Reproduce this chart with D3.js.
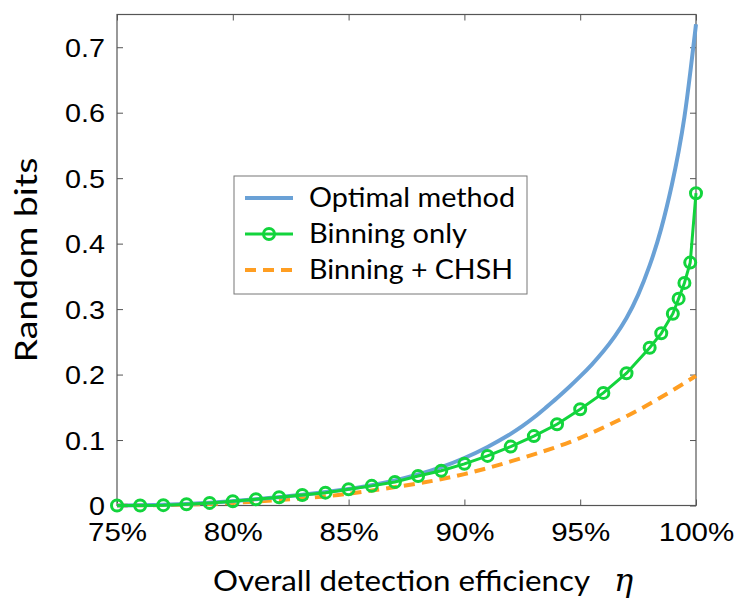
<!DOCTYPE html>
<html>
<head>
<meta charset="utf-8">
<script src="https://cdn.jsdelivr.net/npm/d3@7"></script>
<style>
  body { margin: 0; background: #fff; }
  .tick text { font-family: "Liberation Sans", Arial, sans-serif; }
</style>
</head>
<body>
<script>
// efficiency in %, random bits
var optimalX = [75, 77, 79, 81, 83, 85, 86, 87, 88, 89, 90, 91, 92, 92.5, 93, 93.5, 94, 94.5, 95, 95.5, 96, 96.5, 97, 97.5, 98, 98.5, 99, 99.25, 99.5, 99.75, 100];
var optimalY = [0, 0.0005, 0.004, 0.0095, 0.016, 0.025, 0.031, 0.038, 0.047, 0.058, 0.072, 0.089, 0.109, 0.121, 0.134, 0.149, 0.164, 0.18, 0.197, 0.215, 0.235, 0.258, 0.285, 0.32, 0.365, 0.42, 0.495, 0.54, 0.59, 0.66, 0.735];

var binX = [75, 76, 77, 78, 79, 80, 81, 82, 83, 84, 85, 86, 87, 88, 89, 90, 91, 92, 93, 94, 95, 96, 97, 98, 98.5, 99, 99.25, 99.5, 99.75, 100];
var binY = [0, 0, 0.0005, 0.002, 0.004, 0.0064, 0.0095, 0.0126, 0.016, 0.0196, 0.0248, 0.03, 0.036, 0.045, 0.053, 0.0636, 0.0758, 0.09, 0.106, 0.124, 0.147, 0.172, 0.202, 0.241, 0.263, 0.293, 0.316, 0.34, 0.371, 0.477];

var chshX = [75, 77, 79, 80, 82, 84, 85, 86, 88, 90, 92, 94, 95, 96, 97, 98, 99, 100];
var chshY = [0, 0.0005, 0.002, 0.004, 0.008, 0.0135, 0.018, 0.023, 0.033, 0.047, 0.067, 0.089, 0.103, 0.119, 0.136, 0.155, 0.176, 0.198];

var xTicks = [75, 80, 85, 90, 95, 100];
var yTicks = [0, 0.1, 0.2, 0.3, 0.4, 0.5, 0.6, 0.7];
var legendNames = ["Optimal method", "Binning only", "Binning + CHSH"];
var legendWidths = [206, 158, 204];

var W = 746, H = 599;
var margin = {top: 14.5, right: 50, bottom: 93.5, left: 117};
var width = W - margin.left - margin.right,
    height = H - margin.top - margin.bottom;

var blue = "#6aa1d6", green = "#12d43c", orange = "#ff9e22", frame = "#555";
var titleFont = "Lato, 'Noto Sans', sans-serif";

var svg = d3.select("body").append("svg")
    .attr("width", W)
    .attr("height", H);

var g = svg.append("g")
    .attr("transform", "translate(" + margin.left + "," + margin.top + ")");

var x = d3.scaleLinear().domain([75, 100]).range([0, width]);
var y = d3.scaleLinear().domain([0, 0.75]).range([height, 0]);

function zip(a, b) { return a.map(function(v, i) { return [v, b[i]]; }); }

// stretch glyphs a bit, the original fonts are wider
function widen(sel, k) {
    sel.each(function() {
        var len = this.getComputedTextLength();
        d3.select(this).attr("textLength", len * k).attr("lengthAdjust", "spacingAndGlyphs");
    });
}

// axes, ticks pointing inward
var tickLen = 6;
var xAxis = g.append("g")
    .attr("transform", "translate(0," + height + ")")
    .call(d3.axisBottom(x).tickValues(xTicks).tickSizeInner(-tickLen).tickSizeOuter(0).tickPadding(12)
        .tickFormat(function(d) { return d + "%"; }));
var yAxis = g.append("g")
    .call(d3.axisLeft(y).tickValues(yTicks).tickSizeInner(-tickLen).tickSizeOuter(0).tickPadding(12)
        .tickFormat(function(d) { return d === 0 ? "0" : d3.format(".1f")(d); }));
var topAxis = g.append("g")
    .call(d3.axisTop(x).tickValues(xTicks).tickSizeInner(-tickLen).tickSizeOuter(0).tickFormat(""));
var rightAxis = g.append("g")
    .attr("transform", "translate(" + width + ",0)")
    .call(d3.axisRight(y).tickValues(yTicks).tickSizeInner(-tickLen).tickSizeOuter(0).tickFormat(""));

[xAxis, yAxis, topAxis, rightAxis].forEach(function(a) {
    a.select(".domain").remove();
    a.selectAll(".tick line").attr("stroke", frame).attr("stroke-width", 1);
    a.selectAll(".tick text").attr("fill", "#000").style("font-size", "25px");
});
yAxis.selectAll(".tick text").attr("dy", "0.36em");
xAxis.selectAll(".tick text").attr("dy", "0.92em");
widen(yAxis.selectAll(".tick text"), 1.15);
widen(xAxis.selectAll(".tick text"), 1.18);

g.append("rect")
    .attr("width", width)
    .attr("height", height)
    .attr("fill", "none")
    .attr("stroke", frame)
    .attr("stroke-width", 1.2);

// curves
var smooth = d3.line()
    .x(function(d) { return x(d[0]); })
    .y(function(d) { return y(d[1]); })
    .curve(d3.curveBasis);
var straight = d3.line()
    .x(function(d) { return x(d[0]); })
    .y(function(d) { return y(d[1]); });

g.append("path")
    .datum(zip(chshX, chshY))
    .attr("d", smooth)
    .attr("fill", "none")
    .attr("stroke", orange)
    .attr("stroke-width", 4)
    .attr("stroke-dasharray", "11,7");

g.append("path")
    .datum(zip(optimalX, optimalY))
    .attr("d", smooth)
    .attr("fill", "none")
    .attr("stroke", blue)
    .attr("stroke-width", 4);

g.append("path")
    .datum(zip(binX, binY))
    .attr("d", straight)
    .attr("fill", "none")
    .attr("stroke", green)
    .attr("stroke-width", 3);

g.selectAll(".marker")
    .data(zip(binX, binY))
    .enter()
    .append("circle")
    .attr("class", "marker")
    .attr("cx", function(d) { return x(d[0]); })
    .attr("cy", function(d) { return y(d[1]); })
    .attr("r", 5.5)
    .attr("fill", "none")
    .attr("stroke", green)
    .attr("stroke-width", 3);

// axis titles
svg.append("text")
    .attr("x", 213)
    .attr("y", 591)
    .attr("textLength", 377)
    .attr("lengthAdjust", "spacingAndGlyphs")
    .style("font-family", titleFont)
    .style("font-size", "28px")
    .attr("fill", "#000")
    .text("Overall detection efficiency");

svg.append("text")
    .attr("x", 614)
    .attr("y", 591)
    .style("font-family", "'DejaVu Serif', serif")
    .style("font-style", "italic")
    .style("font-size", "32px")
    .attr("fill", "#000")
    .text("η");

svg.append("text")
    .attr("transform", "translate(37," + (margin.top + height / 2) + ") rotate(-90)")
    .attr("text-anchor", "middle")
    .attr("textLength", 205)
    .attr("lengthAdjust", "spacingAndGlyphs")
    .style("font-family", titleFont)
    .style("font-size", "31px")
    .attr("fill", "#000")
    .text("Random bits");

// legend
var legend = svg.append("g").attr("transform", "translate(234,176)");
legend.append("rect")
    .attr("width", 293)
    .attr("height", 118)
    .attr("fill", "#fff")
    .attr("stroke", "#777")
    .attr("stroke-width", 1);

var rowY = d3.scalePoint().domain(legendNames).range([22, 94]);
var legendColor = d3.scaleOrdinal().domain(legendNames).range([blue, green, orange]);

var rows = legend.selectAll(".row")
    .data(legendNames)
    .enter()
    .append("g")
    .attr("class", "row")
    .attr("transform", function(d) { return "translate(0," + rowY(d) + ")"; });

rows.append("line")
    .attr("x1", 11).attr("x2", 59)
    .attr("stroke", legendColor)
    .attr("stroke-width", function(d, i) { return i === 1 ? 3 : 4; })
    .attr("stroke-dasharray", function(d, i) { return i === 2 ? "11,7" : null; });

rows.filter(function(d, i) { return i === 1; })
    .append("circle")
    .attr("cx", 35)
    .attr("r", 5.5)
    .attr("fill", "none")
    .attr("stroke", green)
    .attr("stroke-width", 3);

rows.append("text")
    .attr("x", 75)
    .attr("dy", "0.35em")
    .attr("textLength", function(d, i) { return legendWidths[i]; })
    .attr("lengthAdjust", "spacingAndGlyphs")
    .style("font-family", titleFont)
    .style("font-size", "26px")
    .attr("fill", "#000")
    .text(function(d) { return d; });
</script>
</body>
</html>
